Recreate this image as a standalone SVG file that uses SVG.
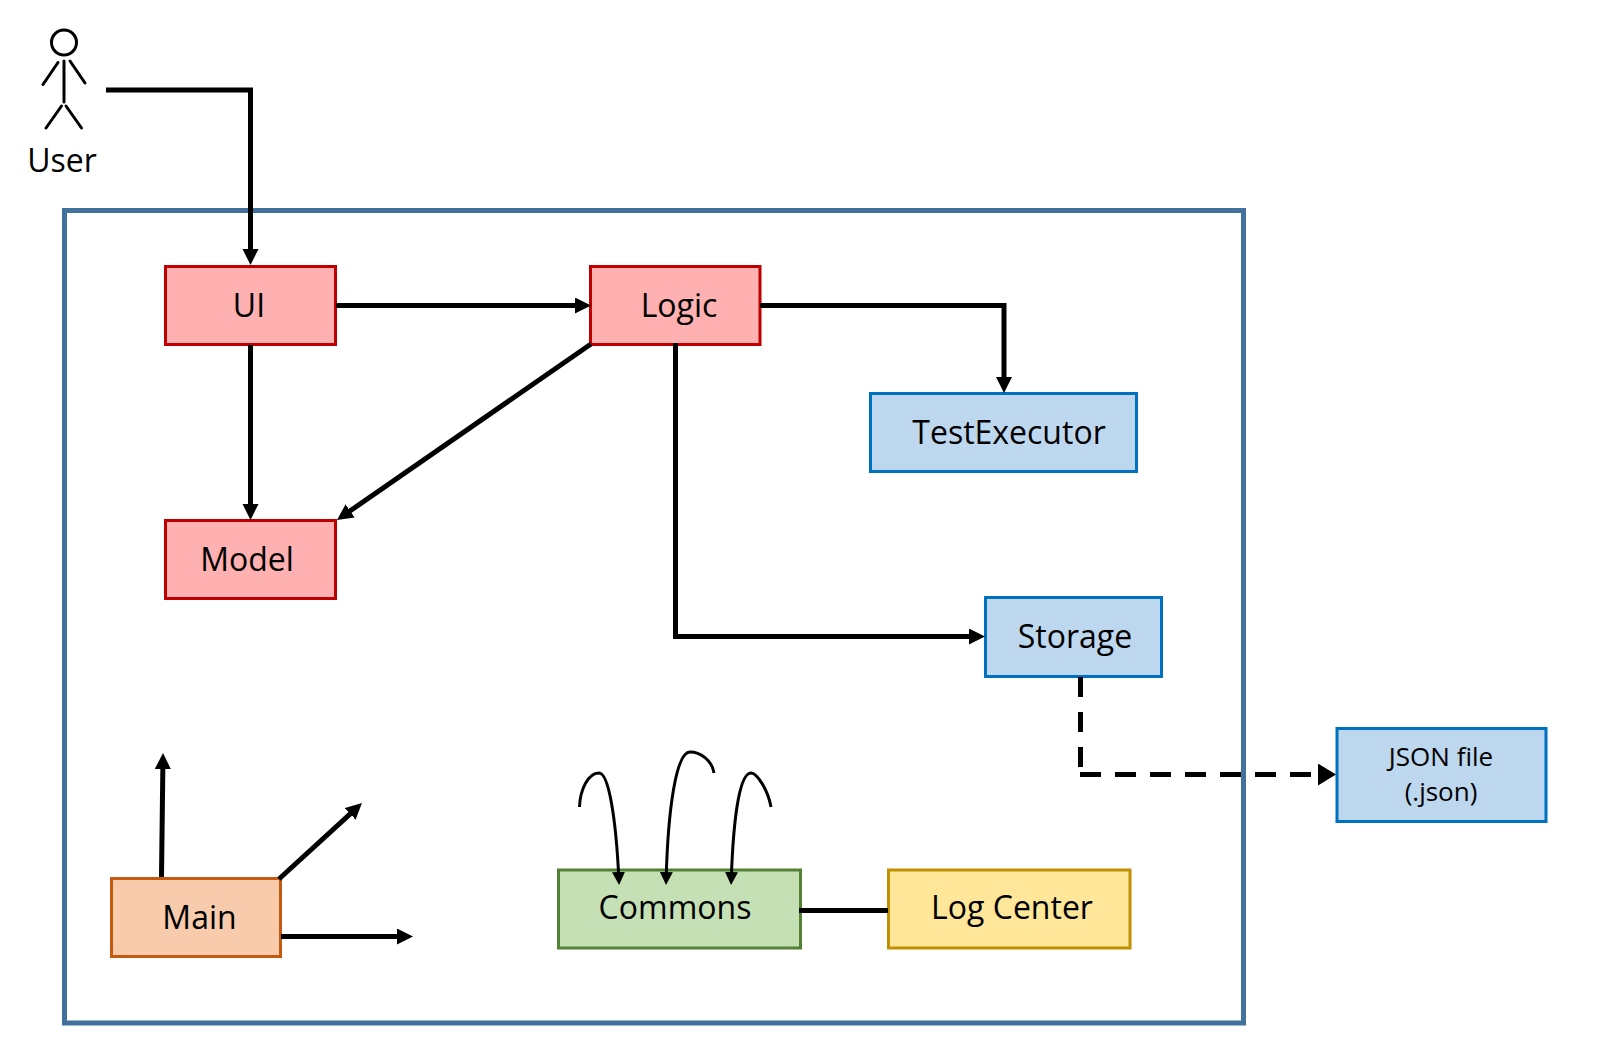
<svg xmlns="http://www.w3.org/2000/svg" width="1600" height="1059" viewBox="0 0 1600 1059">
<style>
text{font-family:"Open Sans","Noto Sans",sans-serif;font-size:32px;fill:#000;text-anchor:middle}
.j{font-size:26px}
.b{stroke-width:3}
.red{fill:#ffb0b0;stroke:#c00000}
.blue{fill:#bdd7ee;stroke:#0070c0}
.c{fill:none;stroke:#000;stroke-width:5}
.t{fill:none;stroke:#000;stroke-width:3}
</style>
<defs>
<marker id="a" markerUnits="userSpaceOnUse" markerWidth="17" markerHeight="17" refX="6" refY="8" orient="auto"><path d="M0 0L16 8L0 16z" fill="#000"/></marker>
<marker id="s" markerUnits="userSpaceOnUse" markerWidth="14" markerHeight="14" refX="6" refY="6.500" orient="auto"><path d="M0 0L13 6.500L0 13z" fill="#000"/></marker>
<marker id="d" markerUnits="userSpaceOnUse" markerWidth="20" markerHeight="24" refX="8" refY="11" orient="auto"><path d="M0 0L18 11L0 22z" fill="#000"/></marker>
</defs>
<rect id="frame" x="64.500" y="210.500" width="1179" height="812.500" fill="#fff" stroke="#41719c" stroke-width="5"/>
<g id="user" fill="none" stroke="#000" stroke-width="3" stroke-linecap="round">
<circle cx="64" cy="42.500" r="12.500"/>
<path d="M64 61V102M58 62.500L43 84.500M70 61L85 83M61.500 106L46 128M66 106L81.500 128"/>
<text x="62" y="172" stroke="none" fill="#000">User</text>
</g>
<g id="ui"><rect class="red b" x="165.500" y="266.500" width="170" height="78"/><text x="249" y="317">UI</text></g>
<g id="logic"><rect class="red b" x="590.500" y="266.500" width="169.500" height="78"/><text x="679" y="317">Logic</text></g>
<g id="model"><rect class="red b" x="165.500" y="520.500" width="170" height="78"/><text x="247" y="571">Model</text></g>
<g id="testexecutor"><rect class="blue b" x="870.500" y="393.500" width="266" height="78"/><text x="1009" y="444">TestExecutor</text></g>
<g id="storage"><rect class="blue b" x="985.500" y="597.500" width="176" height="79"/><text x="1075" y="648">Storage</text></g>
<g id="json"><rect class="blue b" x="1337" y="728.500" width="209" height="93"/><text class="j" x="1441" y="766">JSON file</text><text class="j" x="1441" y="801">(.json)</text></g>
<g id="main"><rect x="111.500" y="878.500" width="169" height="78" fill="#f8cbad" stroke="#c55a11" stroke-width="3"/><text x="199.500" y="929">Main</text></g>
<g id="commons"><rect x="558.500" y="870" width="242" height="78" fill="#c5e0b4" stroke="#548235" stroke-width="3"/><text x="675" y="919">Commons</text></g>
<g id="logcenter"><rect x="888.500" y="870" width="241.500" height="78" fill="#ffe699" stroke="#bf9000" stroke-width="3"/><text x="1012" y="919">Log Center</text></g>
<g id="connectors">
<path class="c" d="M106 90H250.500V255" marker-end="url(#a)"/>
<path class="c" d="M336 305.500H581" marker-end="url(#a)"/>
<path class="c" d="M760 305.500H1004V383" marker-end="url(#a)"/>
<path class="c" d="M250.500 345V510" marker-end="url(#a)"/>
<path class="c" d="M591 344L345.200 514.300" marker-end="url(#a)"/>
<path class="c" d="M675.500 343V636.500H975" marker-end="url(#a)"/>
<path class="c" d="M1080.500 677V767" stroke-dasharray="20 15"/>
<path class="c" d="M1080 774.500H1326" stroke-dasharray="21 14" marker-end="url(#d)"/>
<path class="c" d="M161.500 877L162.900 763" marker-end="url(#a)"/>
<path class="c" d="M279 879L354.600 809.800" marker-end="url(#a)"/>
<path class="c" d="M281 936.500H403" marker-end="url(#a)"/>
<path class="t" d="M579.500 807C580 790 588 773 599 773C609 773 616 820 618.800 878" marker-end="url(#s)"/>
<path class="t" d="M714 773C712 760 700 752 690 752C676 752 668 810 666.200 878" marker-end="url(#s)"/>
<path class="t" d="M771 807C768 790 757 773 751 773C738 773 733 830 731.300 878" marker-end="url(#s)"/>
<path class="c" d="M799 910.500H888"/>
</g>
</svg>
